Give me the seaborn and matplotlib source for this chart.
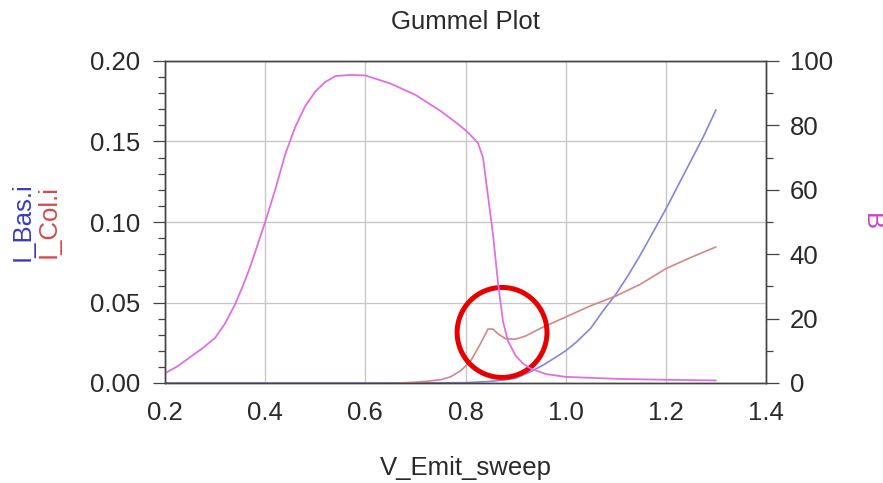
import numpy as np
import pandas as pd
import matplotlib
matplotlib.use('Agg')
import matplotlib.pyplot as plt
import seaborn as sns
from matplotlib.ticker import MultipleLocator
from matplotlib.patches import Ellipse

# Gummel plot data
vb_beta = [0.20, 0.225, 0.25, 0.275, 0.30, 0.32, 0.34, 0.355, 0.37, 0.40, 0.42, 0.44,
           0.46, 0.48, 0.50, 0.52, 0.54, 0.57, 0.60, 0.65, 0.70, 0.75, 0.78, 0.80,
           0.81, 0.825, 0.835, 0.845, 0.855, 0.865, 0.875, 0.885, 0.90, 0.915, 0.93,
           0.96, 1.00, 1.10, 1.20, 1.30]
beta = [3.0, 5.2, 8.0, 10.8, 14.0, 18.5, 24.5, 30.0, 36.0, 50.0, 60.0, 71.0,
        79.5, 86.0, 90.5, 93.5, 95.3, 95.7, 95.5, 93.0, 89.5, 84.5, 81.0, 78.5,
        77.0, 74.5, 70.0, 58.0, 46.0, 31.0, 19.0, 13.0, 8.5, 6.0, 4.5,
        2.8, 1.9, 1.3, 1.0, 0.8]

vb_col = [0.667, 0.70, 0.72, 0.75, 0.77, 0.79, 0.81, 0.83, 0.845, 0.855, 0.865, 0.88,
          0.90, 0.92, 0.95, 1.00, 1.05, 1.10, 1.15, 1.20, 1.25, 1.30]
i_col = [0.0, 0.0005, 0.001, 0.002, 0.0038, 0.0075, 0.0135, 0.0245, 0.0335, 0.0335,
         0.0305, 0.0275, 0.0272, 0.0292, 0.034, 0.041, 0.048, 0.054, 0.0615, 0.071,
         0.078, 0.0845]

vb_bas = [0.20, 0.40, 0.60, 0.80, 0.85, 0.88, 0.90, 0.93, 0.96, 0.98, 1.00, 1.02,
          1.05, 1.075, 1.10, 1.125, 1.15, 1.175, 1.20, 1.225, 1.25, 1.275, 1.30]
i_bas = [0.0, 0.0, 0.0, 0.0002, 0.001, 0.002, 0.003, 0.007, 0.012, 0.016, 0.020, 0.025,
         0.034, 0.045, 0.055, 0.067, 0.080, 0.094, 0.108, 0.123, 0.138, 0.153, 0.1696]

BLUE = "#8585de"
RED = "#d68686"
MAGENTA = "#e070e0"

sns.set_style("white")
plt.rcParams['font.family'] = ['Liberation Sans', 'DejaVu Sans']

fig = plt.figure(figsize=(8.83, 4.83), dpi=100)
W, H = 883, 483
ax = fig.add_axes([165 / W, 1 - 383 / H, (766 - 165) / W, (383 - 61) / H])
ax2 = ax.twinx()

df_bas = pd.DataFrame({"V_Emit_sweep": vb_bas, "I": i_bas})
df_col = pd.DataFrame({"V_Emit_sweep": vb_col, "I": i_col})
df_beta = pd.DataFrame({"V_Emit_sweep": vb_beta, "B": beta})

sns.lineplot(data=df_bas, x="V_Emit_sweep", y="I", ax=ax, color=BLUE, linewidth=1.2)
sns.lineplot(data=df_col, x="V_Emit_sweep", y="I", ax=ax, color=RED, linewidth=1.2)
sns.lineplot(data=df_beta, x="V_Emit_sweep", y="B", ax=ax2, color=MAGENTA, linewidth=1.3)

ax.set_xlim(0.2, 1.4)
ax.set_ylim(0.0, 0.2)
ax2.set_ylim(0, 100)

ax.xaxis.set_major_locator(MultipleLocator(0.2))
ax.xaxis.set_minor_locator(MultipleLocator(0.1))
ax.yaxis.set_major_locator(MultipleLocator(0.05))
ax.yaxis.set_minor_locator(MultipleLocator(0.01))
ax2.yaxis.set_major_locator(MultipleLocator(20))
ax2.yaxis.set_minor_locator(MultipleLocator(10))
ax.yaxis.set_major_formatter(plt.FormatStrFormatter('%.2f'))
ax.xaxis.set_major_formatter(plt.FormatStrFormatter('%.1f'))

ax.grid(True, which='major', color='#c8c8c8', linewidth=1.0)
ax.set_axisbelow(True)

for a in (ax, ax2):
    for s in a.spines.values():
        s.set_color('#444444')
        s.set_linewidth(1.0)
    a.tick_params(which='both', direction='out', color='#444444', width=0.9,
                  labelsize=18.5, labelcolor='#2a2a2a')
    a.tick_params(which='major', length=9)
    a.tick_params(which='minor', length=5)
ax.tick_params(axis='y', pad=9)
ax.tick_params(axis='x', pad=4)
ax2.tick_params(axis='y', pad=8)

ax.set_xlabel("V_Emit_sweep", fontsize=18.5, color='#2a2a2a', labelpad=22)
ax.set_ylabel("")
ax2.set_ylabel("")
ax.set_title("Gummel Plot", fontsize=18.5, color='#2a2a2a', pad=23)

# two-colour left axis label, magenta right axis label
fig.text(23 / W, 1 - 222 / H, "I_Bas.i", rotation=90, color="#3a3ac8",
         fontsize=18.5, ha='center', va='center')
fig.text(49 / W, 1 - 222 / H, "I_Col.i", rotation=90, color="#d84848",
         fontsize=18.5, ha='center', va='center')
fig.text(872 / W, 1 - 222 / H, "B", rotation=270, color="#cc40cc",
         fontsize=18.5, ha='center', va='center')

# red circle highlighting the collector current bump
ax.add_patch(Ellipse((0.873, 0.0314), width=0.1794, height=0.0559, fill=False,
                     edgecolor='#e80000', linewidth=3.6, zorder=5))

fig.savefig("out.png", dpi=100)
